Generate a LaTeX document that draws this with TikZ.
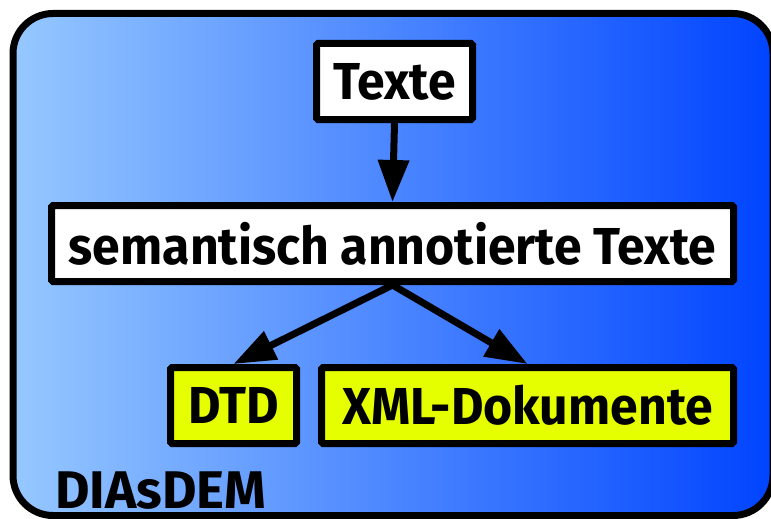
\documentclass[tikz,border=0pt]{standalone}
\usepackage{fontspec}
\setmainfont{Fira Sans}
\newfontfamily\boxfont{Fira Sans}[FakeStretch=0.96]
\usetikzlibrary{arrows.meta}
\definecolor{bgl}{RGB}{150,200,255}
\definecolor{bgr}{RGB}{0,68,255}
\definecolor{yel}{RGB}{230,255,0}
\begin{document}
\begin{tikzpicture}[x=1pt,y=-1pt,
  txt/.style={font=\boxfont\fontsize{52}{60}\selectfont\bfseries},
  box/.style={draw, line width=7pt, fill=white, inner sep=0pt, rounded corners=1.5pt, txt},
  ybox/.style={box, fill=yel},
  arr/.style={line width=7pt, -{Triangle[width=30pt,length=42pt]}}]
\useasboundingbox (0,0) rectangle (771,519);
\draw[line width=7pt, rounded corners=40pt, left color=bgl, right color=bgr] (13,13.5) rectangle (773,515.5);
\node[box, minimum width=156pt, minimum height=76pt] (t) at (394.5,81.5) {Texte};
\node[box, minimum width=682pt, minimum height=76pt] (s) at (392.5,243.5) {semantisch annotierte Texte};
\node[ybox, minimum width=126pt, minimum height=76pt] (d) at (233.5,405.5) {DTD};
\node[ybox, minimum width=412pt, minimum height=76pt] (x) at (527.5,405.5) {XML-Dokumente};
\node[font=\fontsize{53}{60}\selectfont\bfseries, anchor=base west, inner sep=0pt] (dia) at (55,508) {DIAsDEM};
\draw[arr] (t.south) -- (s.north);
\draw[arr] (s.south) -- (d.north);
\draw[arr] (s.south) -- (x.north);
\end{tikzpicture}
\end{document}
